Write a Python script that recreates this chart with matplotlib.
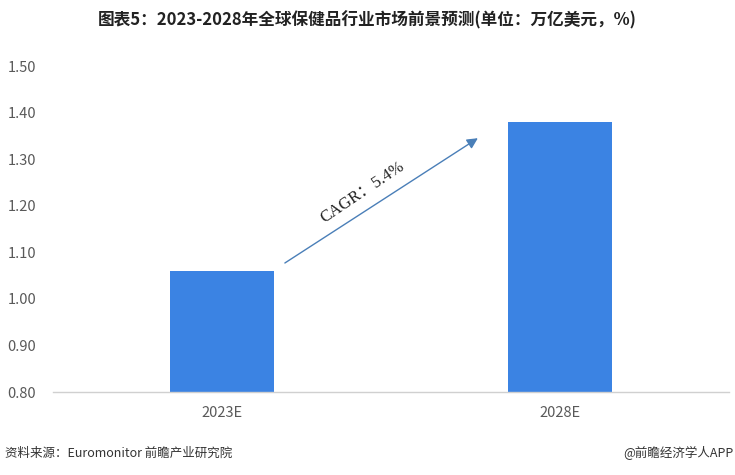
import matplotlib
matplotlib.use("Agg")
import matplotlib.pyplot as plt

plt.rcParams['font.family'] = ['Noto Sans CJK SC', 'DejaVu Sans']

categories = ["2023E", "2028E"]
values = [1.06, 1.38]
yticks = [0.80, 0.90, 1.00, 1.10, 1.20, 1.30, 1.40, 1.50]
title = "图表5：2023-2028年全球保健品行业市场前景预测(单位：万亿美元，%)"
cagr_label = "CAGR：5.4%"
source = "资料来源：Euromonitor 前瞻产业研究院"
credit = "@前瞻经济学人APP"

fig = plt.figure(figsize=(7.35, 4.75), dpi=100)
ax = fig.add_axes([53/735, (475-392)/475, (729-53)/735, (392-66)/475])

x = list(range(len(categories)))
ax.bar(x, values, width=0.31, color="#3b83e3", zorder=2)

ax.set_xlim(-0.5, 1.5)
ax.set_ylim(0.80, 1.50)
ax.set_yticks(yticks)
ax.set_yticklabels([f"{v:.2f}" for v in yticks])
ax.set_xticks(x)
ax.set_xticklabels(categories)
ax.tick_params(axis='both', length=0, colors="#595959", labelsize=10.5)
ax.tick_params(axis='y', pad=12)
ax.tick_params(axis='x', pad=10)
for s in ['left', 'right', 'top']:
    ax.spines[s].set_visible(False)
ax.spines['bottom'].set_color("#d0d0d0")
ax.spines['bottom'].set_linewidth(1.0)

ax.annotate("", xy=(0.757, 1.345), xytext=(0.186, 1.077),
            arrowprops=dict(arrowstyle="-|>", color="#4a7fb8", lw=1.0,
                            mutation_scale=16, shrinkA=0, shrinkB=0))
ax.text(0.417, 1.229, cagr_label, rotation=34, ha='center', va='center',
        fontsize=12, color="#222222",
        family=['Liberation Serif', 'Noto Sans CJK SC'])

fig.text(0.5, 1 - 20/475, title, ha='center', va='center', fontsize=12,
         fontweight='bold', color="#222222")
fig.text(5/735, 1 - 453/475, source, ha='left', va='center', fontsize=9,
         color="#333333")
fig.text(733/735, 1 - 453/475, credit, ha='right', va='center', fontsize=9,
         color="#333333")

fig.savefig("out.png", dpi=100)
